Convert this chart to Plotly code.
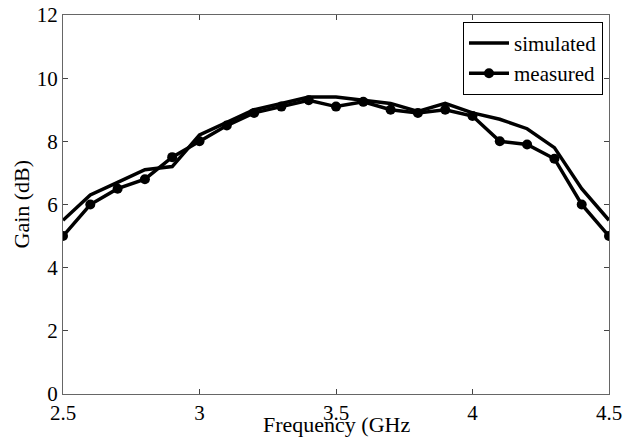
import plotly.graph_objects as go

freq = [2.5, 2.6, 2.7, 2.8, 2.9, 3.0, 3.1, 3.2, 3.3, 3.4, 3.5, 3.6, 3.7, 3.8, 3.9, 4.0, 4.1, 4.2, 4.3, 4.4, 4.5]
simulated = [5.5, 6.3, 6.7, 7.1, 7.2, 8.2, 8.6, 9.0, 9.2, 9.4, 9.4, 9.3, 9.2, 8.95, 9.2, 8.9, 8.7, 8.4, 7.8, 6.5, 5.5]
measured = [5.0, 6.0, 6.5, 6.8, 7.5, 8.0, 8.5, 8.9, 9.1, 9.3, 9.1, 9.25, 9.0, 8.9, 9.0, 8.8, 8.0, 7.9, 7.45, 6.0, 5.0]

x_ticks = [2.5, 3, 3.5, 4, 4.5]
x_ticklabels = ["2.5", "3", "3.5", "4", "4.5"]
y_ticks = [0, 2, 4, 6, 8, 10, 12]

font = "Liberation Serif, Times New Roman, serif"

fig = go.Figure()
fig.add_trace(go.Scatter(x=freq, y=simulated, mode="lines", name="simulated",
                         line=dict(color="black", width=3.5)))
fig.add_trace(go.Scatter(x=freq, y=measured, mode="lines+markers", name="measured",
                         line=dict(color="black", width=3.5),
                         marker=dict(symbol="circle", size=10, color="black")))

axis_common = dict(showline=True, linecolor="#666666", linewidth=1, mirror="ticks",
                   ticks="inside", ticklen=5, tickcolor="#444444", showgrid=False,
                   zeroline=False, automargin=False, ticklabeloverflow="allow",
                   tickfont=dict(family=font, size=21, color="black"))

fig.update_layout(
    width=625, height=439,
    margin=dict(l=63, r=16, t=15, b=45),
    paper_bgcolor="white", plot_bgcolor="white",
    font=dict(family=font, size=21, color="black"),
    showlegend=True,
    legend=dict(x=0.989, y=0.982, xanchor="right", yanchor="top",
                bordercolor="black", borderwidth=1, bgcolor="white",
                font=dict(family=font, size=21, color="black"),
                tracegroupgap=0, itemwidth=40),
    xaxis=dict(range=[2.5, 4.5], tickvals=x_ticks, ticktext=x_ticklabels, **axis_common),
    yaxis=dict(range=[0, 12], tickvals=y_ticks, **axis_common),
    annotations=[
        dict(text="Frequency (GHz", xref="paper", yref="paper", x=0.5, y=0,
             xanchor="center", yanchor="middle", yshift=-30, showarrow=False,
             font=dict(family=font, size=22, color="black")),
        dict(text="Gain (dB)", xref="paper", yref="paper", x=0, y=0.5,
             xanchor="center", yanchor="middle", xshift=-42, textangle=-90,
             showarrow=False, font=dict(family=font, size=22, color="black")),
    ],
)

fig.write_html("out.html", config={"displayModeBar": False},
               post_script="document.body.style.margin='0';")
